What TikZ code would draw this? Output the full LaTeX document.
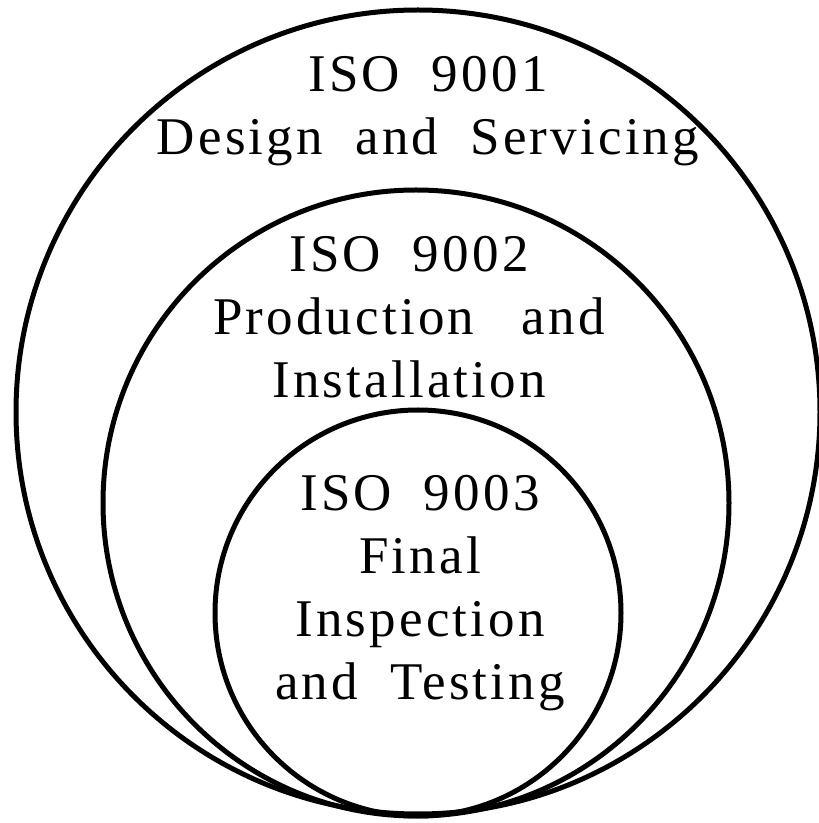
\documentclass[tikz,border=0pt]{standalone}
\usepackage{fontspec}
\setmainfont{Liberation Serif}[LetterSpace=6]
\tikzset{
  ring/.style={line width=5pt},
  label/.style={align=center,anchor=north,inner sep=0pt,font=\fontsize{53}{63}\selectfont}
}
\begin{document}
\begin{tikzpicture}[x=1pt,y=1pt]
    \useasboundingbox (0,0) rectangle (819,823);
    % circles
    \draw[ring] (418,411) circle (402);
    \draw[ring] (416,320) circle (313);
    \draw[ring] (418,210) circle (203);
    % texts
    \node[label] (iso1) at (428,767) {ISO\hspace{0.6em}9001\\Design\hspace{0.3em} and\hspace{0.3em} Servicing};
    \node[label] (iso2) at (409,587) {ISO\hspace{0.6em}9002\\Production\hspace{0.9em}and\\Installation};
    \node[label] (iso3) at (420,348) {ISO\hspace{0.6em}9003\\Final\\Inspection\\and\hspace{0.3em} Testing};
\end{tikzpicture}
\end{document}
